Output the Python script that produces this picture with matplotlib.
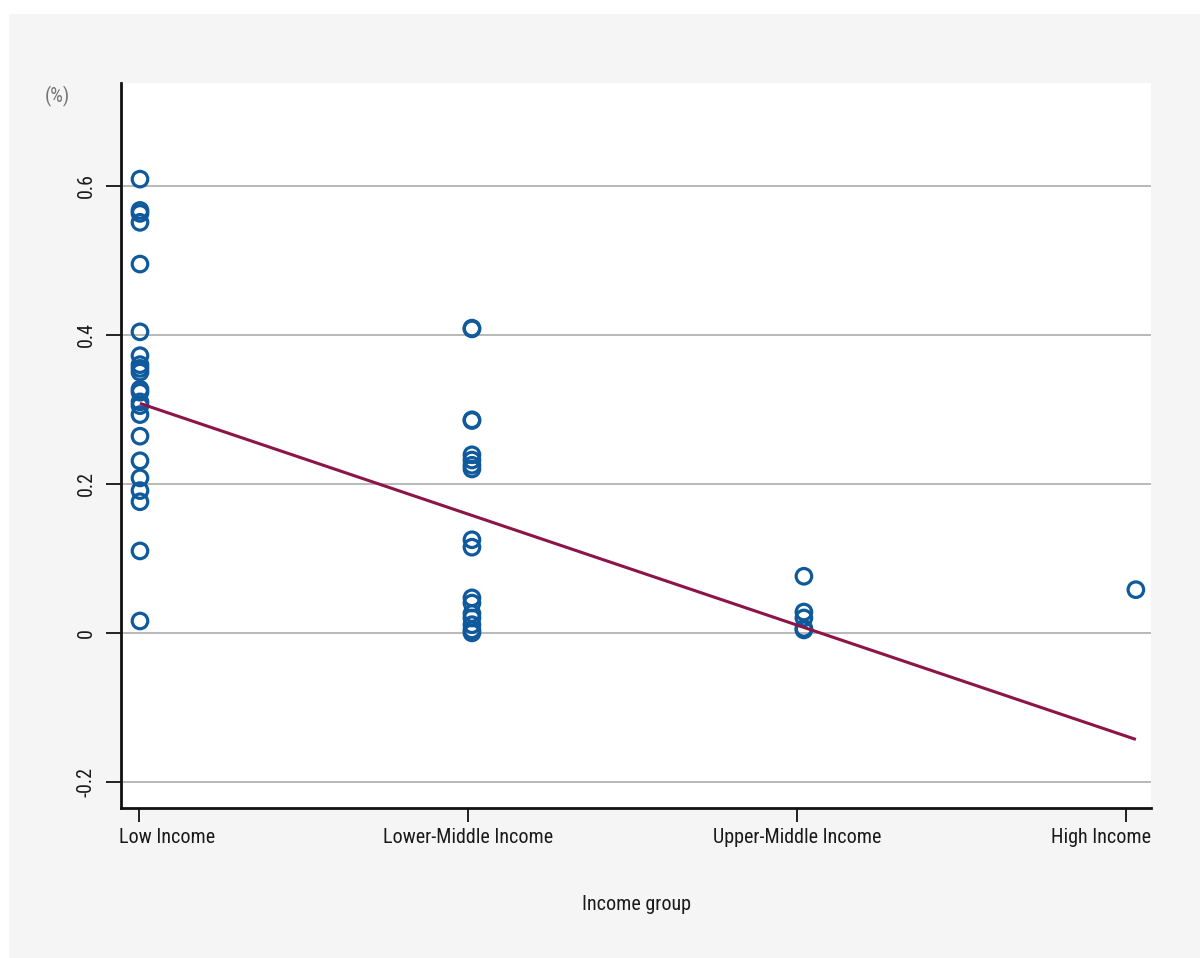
import matplotlib
matplotlib.use("Agg")
import matplotlib.pyplot as plt
from matplotlib import font_manager
import numpy as np

# ---- data ----
groups = ["Low Income", "Lower-Middle Income", "Upper-Middle Income", "High Income"]
low_income = [0.609, 0.567, 0.563, 0.551, 0.495, 0.404, 0.372, 0.360, 0.355, 0.350,
              0.327, 0.323, 0.310, 0.305, 0.293, 0.264, 0.231, 0.208, 0.191, 0.176,
              0.110, 0.016]
lower_middle = [0.409, 0.408, 0.286, 0.285, 0.239, 0.232, 0.225, 0.220, 0.125, 0.115,
                0.047, 0.040, 0.026, 0.020, 0.011, 0.004, 0.000]
upper_middle = [0.076, 0.028, 0.020, 0.006, 0.004]
high_income = [0.058]
point_x = [0.003, 1.012, 2.021, 3.030]     # plotted x position of each group
fit_x = [0.003, 3.030]
fit_y = [0.308, -0.143]
yticks = [-0.2, 0, 0.2, 0.4, 0.6]
ytick_labels = ["-0.2", "0", "0.2", "0.4", "0.6"]

# ---- font: look for a condensed sans face ----
fs = 13.5
cands = []
for f in font_manager.fontManager.ttflist:
    nm = f.name.lower()
    st = str(f.stretch).lower()
    if ("narrow" in nm or "condensed" in nm or "condensed" in st) and "mono" not in nm \
            and "serif" not in nm and f.style == "normal" and f.weight in (400, "normal", "regular"):
        cands.append(f)
if cands:
    def rank(f):
        nm = f.name.lower()
        return (0 if "liberation" in nm else 1 if "roboto" in nm else 2 if "dejavu" in nm else 3)
    cands.sort(key=rank)
    fs = 14.5
    plt.rcParams['font.family'] = [cands[0].name, "DejaVu Sans"]
    try:
        plt.rcParams['font.stretch'] = cands[0].stretch
    except Exception:
        pass
else:
    plt.rcParams['font.family'] = ["Liberation Sans", "DejaVu Sans"]

fig = plt.figure(figsize=(12, 9.58), dpi=100)
fig.patch.set_facecolor("white")
W, H = 1200, 958
fig.patches.append(plt.Rectangle((9 / W, 0), 1 - 9 / W, 1 - 14 / H, transform=fig.transFigure,
                                 facecolor="#f5f5f5", edgecolor="none", zorder=-10))

left, right, top, bottom = 121, 1151, 83, 808
ax = fig.add_axes([left / W, 1 - bottom / H, (right - left) / W, (bottom - top) / H])
ax.set_facecolor("white")

x0 = (left - 139) / 329.0
x1 = (right - 139) / 329.0
ax.set_xlim(x0, x1)
ax.set_ylim(-0.235, 0.738)

for yt in yticks:
    ax.axhline(yt, color="#a6a6a6", lw=1.1, zorder=1)

series = [low_income, lower_middle, upper_middle, high_income]
for xp, vals in zip(point_x, series):
    ax.scatter([xp] * len(vals), vals, s=125, facecolors="none", edgecolors="#0f5a9c",
               linewidths=2.3, zorder=3)

ax.plot(fit_x, fit_y, color="#8c1449", lw=2.2, zorder=4, solid_capstyle="butt")

# x tick labels: middle ones centred, end ones kept inside the axis span
ax.set_xticks(range(len(groups)))
ax.set_xticklabels([""] + groups[1:-1] + [""], fontsize=fs, color="#1a1a1a")
ylab_off = -(10 + 10) * 72 / 100  # points below the axis
ax.annotate(groups[0], xy=(0, 0), xycoords="axes fraction", xytext=(-2 * 0.72, ylab_off),
            textcoords="offset points", ha="left", va="top", fontsize=fs, color="#1a1a1a")
ax.annotate(groups[-1], xy=(1, 0), xycoords="axes fraction", xytext=(0, ylab_off),
            textcoords="offset points", ha="right", va="top", fontsize=fs, color="#1a1a1a")

ax.set_yticks(yticks)
ax.set_yticklabels(ytick_labels, fontsize=fs, color="#1a1a1a", rotation=90, va="center")
ax.tick_params(axis="y", length=11, width=1.3, pad=7, color="#111111")
ax.tick_params(axis="x", length=10, width=1.3, pad=4.3, color="#111111")

for s in ["top", "right"]:
    ax.spines[s].set_visible(False)
for s in ["left", "bottom"]:
    ax.spines[s].set_linewidth(2)
    ax.spines[s].set_color("#111111")

ax.set_xlabel("Income group", fontsize=fs, color="#1a1a1a", labelpad=35)
fig.text(57 / W, 1 - 96 / H, "(%)", fontsize=fs, color="#777777", ha="center", va="center")

fig.savefig("out.png", dpi=100, facecolor=fig.get_facecolor())
